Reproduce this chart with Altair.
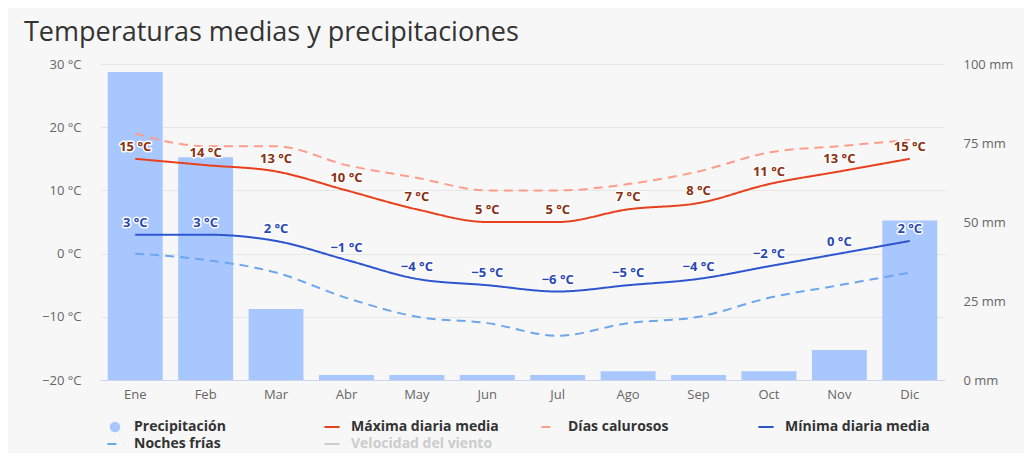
import altair as alt
import pandas as pd

months = ["Ene", "Feb", "Mar", "Abr", "May", "Jun", "Jul", "Ago", "Sep", "Oct", "Nov", "Dic"]
precip_mm = [97.5, 70.5, 22.5, 1.6, 1.6, 1.6, 1.6, 2.8, 1.6, 2.8, 9.5, 50.5]
max_temp = [15, 14, 13, 10, 7, 5, 5, 7, 8, 11, 13, 15]
hot_days = [19, 17, 17, 14, 12, 10, 10, 11, 13, 16, 17, 18]
min_temp = [3, 3, 2, -1, -4, -5, -6, -5, -4, -2, 0, 2]
cold_nights = [0, -1, -3, -7, -10, -11, -13, -11, -10, -7, -5, -3]

series_names = ["Precipitación", "Máxima diaria media", "Días calurosos",
                "Mínima diaria media", "Noches frías", "Velocidad del viento"]
series_colors = ["#a9c7ff", "#e8401c", "#ff9c8a", "#2d55d0", "#6ea6ee", "#cccccc"]
series_dash = [[1, 0], [1, 0], [9, 6], [1, 0], [9, 6], [1, 0]]

FONT = "Open Sans"

df_p = pd.DataFrame({"month": months, "mm": precip_mm})
rows = []
for name, vals in [("Máxima diaria media", max_temp), ("Días calurosos", hot_days),
                   ("Mínima diaria media", min_temp), ("Noches frías", cold_nights)]:
    for m, v in zip(months, vals):
        rows.append({"month": m, "series": name, "value": v})
df_t = pd.DataFrame(rows)

x_enc = alt.X("month:N", sort=months, title=None,
              scale=alt.Scale(paddingInner=0.22, paddingOuter=0.11),
              axis=alt.Axis(labelAngle=0, labelColor="#666666", labelFont=FONT, labelFontSize=13,
                            domainColor="#ccd6eb", domainWidth=1, ticks=False, labelPadding=8))

temp_axis = alt.Axis(values=[-20, -10, 0, 10, 20, 30], format="d",
                     labelExpr="datum.label + ' °C'", grid=True, gridColor="#e6e6e6",
                     domain=False, ticks=False, labelPadding=19, labelColor="#666666",
                     labelFont=FONT, labelFontSize=13, title=None)
y_temp = alt.Y("value:Q", scale=alt.Scale(domain=[-20, 30], nice=False), axis=temp_axis)

bars = alt.Chart(df_p).mark_bar(color="#a9c7ff").encode(
    x=x_enc,
    y=alt.Y("mm:Q", scale=alt.Scale(domain=[0, 100], nice=False),
            axis=alt.Axis(orient="right", values=[0, 25, 50, 75, 100],
                          labelExpr="datum.value + '  mm'", grid=False, domain=False,
                          ticks=False, labelPadding=18, labelColor="#666666",
                          labelFont=FONT, labelFontSize=13, title=None)),
)

is_prec = "datum.value === 'Precipitación'"
is_dash = "(datum.value === 'Días calurosos' || datum.value === 'Noches frías')"
legend = alt.Legend(
    title=None, orient="none", legendX=8, legendY=356, direction="horizontal",
    columns=4, columnPadding=38, rowPadding=3, gridAlign="all",
    labelFont=FONT, labelFontSize=14,
    labelFontWeight="bold", labelOffset=12, labelLimit=0,
    labelColor={"expr": "datum.value === 'Velocidad del viento' ? '#cccccc' : '#333333'"},
    symbolType={"expr": is_prec + " ? 'circle' : 'stroke'"},
    symbolSize={"expr": is_prec + " ? 110 : 230"},
    symbolFillColor={"expr": is_prec + " ? '#a9c7ff' : 'transparent'"},
    symbolStrokeWidth={"expr": is_prec + " ? 0 : 2"},
    symbolDash={"expr": is_dash + " ? [8, 4, 2, 4] : [1, 0]"},
)

lines = alt.Chart(df_t).mark_line(interpolate="monotone", strokeWidth=2).encode(
    x=x_enc,
    y=y_temp,
    color=alt.Color("series:N", scale=alt.Scale(domain=series_names, range=series_colors), legend=legend),
    strokeDash=alt.StrokeDash("series:N", scale=alt.Scale(domain=series_names, range=series_dash), legend=None),
)


def labels(series, color):
    base = alt.Chart(df_t).transform_filter(alt.datum.series == series).transform_calculate(
        lab="format(datum.value, 'd') + ' °C'")
    halo = base.mark_text(dy=-12, fontSize=13, fontWeight="bold", font=FONT, stroke="white",
                          strokeWidth=3, strokeJoin="round", fill="white").encode(
        x=x_enc, y=y_temp, text="lab:N")
    txt = base.mark_text(dy=-12, fontSize=13, fontWeight="bold", font=FONT, fill=color).encode(
        x=x_enc, y=y_temp, text="lab:N")
    return [halo, txt]


temps = alt.layer(lines, *labels("Máxima diaria media", "#8a3010"),
                  *labels("Mínima diaria media", "#2a48b5"))

chart = alt.layer(bars, temps).resolve_scale(y="independent").properties(
    width=845, height=316,
    autosize=alt.AutoSizeParams(type="none"),
    padding={"left": 92, "top": 56, "right": 79, "bottom": 73},
    background="#f7f7f7",
    title=alt.TitleParams("Temperaturas medias y precipitaciones", anchor="start", fontSize=27,
                          font=FONT, fontWeight="normal", color="#333333", frame="group",
                          dx=-76, offset=11),
).configure_view(stroke=None)

chart.save("out.html", embed_options={"renderer": "svg", "actions": False})
